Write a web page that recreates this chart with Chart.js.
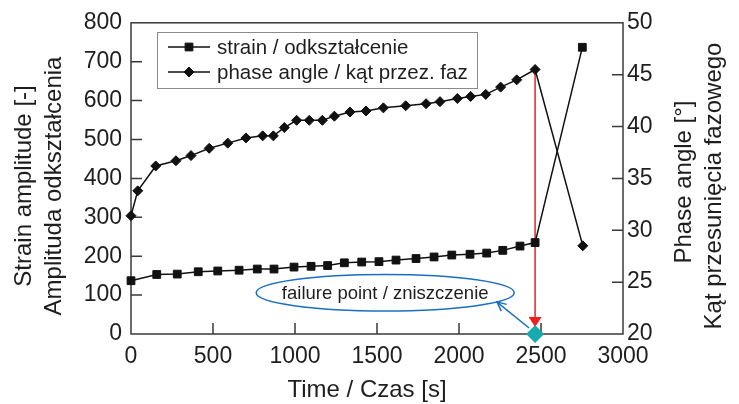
<!DOCTYPE html>
<html><head><meta charset="utf-8">
<script src="https://cdn.jsdelivr.net/npm/chart.js@4.4.0/dist/chart.umd.min.js"></script>
<style>html,body{margin:0;padding:0;background:#fff;overflow:hidden}#wrap{width:739px;height:404px}</style>
</head><body><div id="wrap"><canvas id="c" width="739" height="404"></canvas></div>
<script>
// ---- data ----
const strainTime   = [0,157,282,410,529,659,770,872,994,1098,1199,1301,1407,1512,1616,1738,1848,1956,2067,2169,2267,2372,2464,2752];
const strainValues = [137,153,154,160,162,164,167,167,172,174,176,183,185,186,190,194,198,203,205,208,215,226,235,737];
const phaseTime    = [0,41,151,274,366,477,590,701,803,868,935,1010,1087,1167,1240,1335,1433,1539,1675,1799,1884,1990,2071,2163,2254,2352,2464,2755];
const phaseValues  = [31.4,33.8,36.2,36.7,37.2,37.9,38.4,38.9,39.1,39.1,39.9,40.6,40.6,40.6,41.0,41.4,41.5,41.8,42.0,42.2,42.4,42.7,42.9,43.1,43.8,44.5,45.5,28.5];
const failureTime  = [2464];
const failurePhase = [20];
const timeTicks    = [0,500,1000,1500,2000,2500,3000];
const strainTicks  = [0,100,200,300,400,500,600,700,800];
const phaseTicks   = [20,25,30,35,40,45,50];
const seriesLabels = ['strain / odkształcenie','phase angle / kąt przez. faz'];
const xTitle       = 'Time / Czas [s]';
const leftTitle    = ['Strain amplitude [-]','Amplituda odkształcenia'];
const rightTitle   = ['Phase angle [°]','Kąt przesunięcia fazowego'];
const failureText  = 'failure point / zniszczenie';
const ellipseCenter = {x:1550, y:106};   // time, strain
const arrowTarget   = {x:2232, y:82};    // time, strain

// ---- styles ----
const FONT = '"Liberation Sans", Arial, Helvetica, sans-serif';
const TXT = '#1e1e1e';
const AX = '#3a3a3a';

function vtext(ctx, text, x, y){
  ctx.save(); ctx.translate(x,y); ctx.rotate(-Math.PI/2);
  ctx.textAlign='center'; ctx.textBaseline='middle'; ctx.fillText(text,0,0); ctx.restore();
}

const decor = {
  id:'decor',
  beforeDatasetsDraw(chart){
    const {ctx, chartArea:a, scales} = chart;
    ctx.save();
    // frame
    ctx.strokeStyle = AX; ctx.lineWidth = 1.5;
    ctx.strokeRect(a.left, a.top, a.right-a.left, a.bottom-a.top);
    // inward ticks
    const TL = 11;
    ctx.beginPath();
    scales.x.ticks.forEach(t=>{ if(t.value<=scales.x.min||t.value>=scales.x.max) return;
      const p = scales.x.getPixelForValue(t.value); ctx.moveTo(p,a.bottom); ctx.lineTo(p,a.bottom-TL); });
    scales.yL.ticks.forEach(t=>{ if(t.value<=scales.yL.min||t.value>=scales.yL.max) return;
      const p = scales.yL.getPixelForValue(t.value); ctx.moveTo(a.left,p); ctx.lineTo(a.left+TL,p); });
    scales.yR.ticks.forEach(t=>{ if(t.value<=scales.yR.min||t.value>=scales.yR.max) return;
      const p = scales.yR.getPixelForValue(t.value); ctx.moveTo(a.right,p); ctx.lineTo(a.right-TL,p); });
    ctx.stroke();

    // failure annotations
    const fx = scales.x.getPixelForValue(failureTime[0]);
    const fy = scales.yR.getPixelForValue(failurePhase[0]);
    const iTop = phaseTime.indexOf(failureTime[0]);
    const topY = scales.yR.getPixelForValue(phaseValues[iTop]);
    // red arrow
    ctx.strokeStyle = '#f02020'; ctx.fillStyle = '#f02020'; ctx.lineWidth = 1.5;
    ctx.beginPath(); ctx.moveTo(fx, topY); ctx.lineTo(fx, fy-16); ctx.stroke();
    ctx.beginPath(); ctx.moveTo(fx-6.5, fy-17); ctx.lineTo(fx+6.5, fy-17); ctx.lineTo(fx, fy-7); ctx.closePath(); ctx.fill();
    // ellipse
    const ex = scales.x.getPixelForValue(ellipseCenter.x), ey = scales.yL.getPixelForValue(ellipseCenter.y);
    ctx.strokeStyle = '#1a6fc2'; ctx.lineWidth = 1.5;
    ctx.beginPath(); ctx.ellipse(ex, ey, 129, 18.3, 0, 0, Math.PI*2); ctx.stroke();
    ctx.fillStyle = TXT; ctx.font = '18.5px '+FONT; ctx.textAlign='center'; ctx.textBaseline='middle';
    ctx.fillText(failureText, ex, ey+1);
    // blue arrow
    const tx = scales.x.getPixelForValue(arrowTarget.x), ty = scales.yL.getPixelForValue(arrowTarget.y);
    const sx = fx-6, sy = fy-6;
    ctx.strokeStyle = '#1a6fc2'; ctx.lineWidth = 1.5;
    ctx.beginPath(); ctx.moveTo(sx,sy); ctx.lineTo(tx,ty); ctx.stroke();
    const ang = Math.atan2(sy-ty, sx-tx), L = 10, w = 0.45;
    ctx.beginPath();
    ctx.moveTo(tx+L*Math.cos(ang+w), ty+L*Math.sin(ang+w)); ctx.lineTo(tx,ty);
    ctx.lineTo(tx+L*Math.cos(ang-w), ty+L*Math.sin(ang-w)); ctx.stroke();
    ctx.restore();
  },
  afterDraw(chart){
    const {ctx, chartArea:a, data} = chart;
    ctx.save();
    // axis titles
    ctx.fillStyle = TXT; ctx.font = '24px '+FONT;
    ctx.textAlign='center'; ctx.textBaseline='middle';
    ctx.fillText(xTitle, (a.left+a.right)/2 - 10, 390);
    vtext(ctx, leftTitle[0], 24, 186);
    vtext(ctx, leftTitle[1], 54, 186);
    vtext(ctx, rightTitle[0], 684, 182);
    vtext(ctx, rightTitle[1], 714, 186);
    // legend
    const bx=157, by=32, bw=320, bh=56;
    ctx.fillStyle='#fff'; ctx.fillRect(bx,by,bw,bh);
    ctx.strokeStyle='#8a8a8a'; ctx.lineWidth=1; ctx.strokeRect(bx+0.5,by+0.5,bw,bh);
    [0,1].forEach(i=>{
      const ds = data.datasets[i]; const y = by + 15 + i*25;
      ctx.strokeStyle='#111'; ctx.fillStyle='#111'; ctx.lineWidth=1.5;
      ctx.beginPath(); ctx.moveTo(bx+11,y); ctx.lineTo(bx+53,y); ctx.stroke();
      ctx.lineWidth=1;
      Chart.helpers.drawPoint(ctx, {pointStyle: ds.pointStyle, radius: ds.pointRadius, borderWidth:1}, bx+32, y);
      ctx.fillStyle=TXT; ctx.font='20.5px '+FONT; ctx.textAlign='left'; ctx.textBaseline='middle';
      ctx.fillText(ds.label, bx+60, y+1);
    });
    ctx.restore();
  }
};

const base = {borderColor:'#111', backgroundColor:'#111', borderWidth:1.5, tension:0, clip:false, pointBorderWidth:1};
const tickFont = {family:FONT, size:23};
const plain = v => String(v);
new Chart(document.getElementById('c'), {
  type:'line',
  data:{datasets:[
    Object.assign({label:seriesLabels[0], yAxisID:'yL', pointStyle:'rect', pointRadius:5.5,
      data: strainTime.map((x,i)=>({x, y:strainValues[i]}))}, base),
    Object.assign({label:seriesLabels[1], yAxisID:'yR', pointStyle:'rectRot', pointRadius:5,
      data: phaseTime.map((x,i)=>({x, y:phaseValues[i]}))}, base),
    {label:'failure', yAxisID:'yR', showLine:false, clip:false, pointStyle:'rectRot', pointRadius:9,
      backgroundColor:'#19a9b0', borderColor:'#19a9b0', pointBorderWidth:0,
      data: failureTime.map((x,i)=>({x, y:failurePhase[i]}))}
  ]},
  options:{
    responsive:false, animation:false, devicePixelRatio:1,
    layout:{padding:{top:22,left:0,right:0,bottom:0}},
    plugins:{legend:{display:false}, tooltip:{enabled:false}},
    scales:{
      x:{type:'linear', position:'bottom', min:0, max:3000,
        afterBuildTicks:s=>{s.ticks = timeTicks.map(v=>({value:v}));},
        afterFit:s=>{s.height=70;},
        grid:{display:false, drawTicks:false}, border:{display:false},
        ticks:{padding:9, font:tickFont, color:TXT, maxRotation:0, autoSkip:false, callback:plain}},
      yL:{type:'linear', position:'left', min:0, max:800,
        afterBuildTicks:s=>{s.ticks = strainTicks.map(v=>({value:v}));},
        afterFit:s=>{s.width=131;},
        grid:{display:false, drawTicks:false}, border:{display:false},
        ticks:{padding:9, font:tickFont, color:TXT, autoSkip:false, callback:plain}},
      yR:{type:'linear', position:'right', min:20, max:50,
        afterBuildTicks:s=>{s.ticks = phaseTicks.map(v=>({value:v}));},
        afterFit:s=>{s.width=116;},
        grid:{display:false, drawTicks:false}, border:{display:false},
        ticks:{padding:4, font:tickFont, color:TXT, autoSkip:false, callback:plain}}
    }
  },
  plugins:[decor]
});
</script></body></html>
